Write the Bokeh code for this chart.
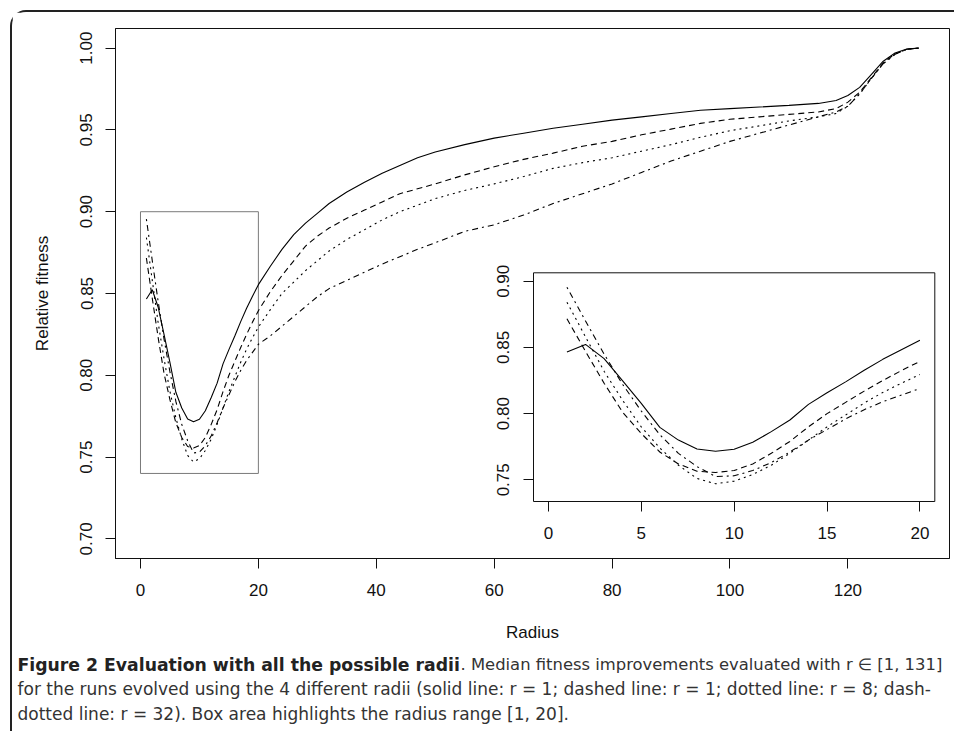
import math
from bokeh.plotting import figure
from bokeh.models import Range1d, FixedTicker, NumeralTickFormatter, Label, LinearAxis
from bokeh.layouts import column
from bokeh.embed import file_html
from bokeh.resources import INLINE

# ---------------- data ----------------
radius = [1, 2, 3, 4, 5, 6, 7, 8, 9, 10, 11, 12, 13, 14, 15, 16, 17, 18, 19, 20,
          22, 24, 26, 28, 30, 32, 35, 38, 41, 44, 47, 50,
          55, 60, 65, 70, 75, 80, 85, 90, 95, 100, 105, 110, 115,
          118, 120, 122, 124, 126, 128, 130, 132]

solid_r1 = [0.8466, 0.8523, 0.8416, 0.8248, 0.8077, 0.7896, 0.7800, 0.7733, 0.7716, 0.7731,
            0.7783, 0.7864, 0.7952, 0.8070, 0.8157, 0.8240, 0.8328, 0.8410, 0.8483, 0.8554,
            0.8665, 0.8770, 0.8860, 0.8930, 0.8990, 0.9050, 0.9120, 0.9180, 0.9235, 0.9283,
            0.9330, 0.9365,
            0.9410, 0.9450, 0.9480, 0.9510, 0.9535, 0.9560, 0.9580, 0.9600, 0.9620, 0.9630,
            0.9640, 0.9650, 0.9662,
            0.9680, 0.9710, 0.9760, 0.9840, 0.9920, 0.9970, 0.9995, 1.0000]

dashed_r1 = [0.8717, 0.8470, 0.8230, 0.8010, 0.7850, 0.7710, 0.7620, 0.7565, 0.7555, 0.7570,
             0.7620, 0.7700, 0.7790, 0.7900, 0.8000, 0.8085, 0.8170, 0.8250, 0.8325, 0.8395,
             0.8510, 0.8610, 0.8700, 0.8790, 0.8850, 0.8900, 0.8960, 0.9010, 0.9060, 0.9110,
             0.9140, 0.9170,
             0.9225, 0.9275, 0.9320, 0.9358, 0.9400, 0.9430, 0.9470, 0.9505, 0.9540, 0.9565,
             0.9580, 0.9595, 0.9610,
             0.9630, 0.9670, 0.9730, 0.9820, 0.9910, 0.9965, 0.9993, 1.0000]

dotted_r8 = [0.8842, 0.8580, 0.8320, 0.8100, 0.7900, 0.7740, 0.7610, 0.7510, 0.7470, 0.7490,
             0.7540, 0.7610, 0.7700, 0.7800, 0.7900, 0.7990, 0.8080, 0.8160, 0.8230, 0.8295,
             0.8400, 0.8500, 0.8570, 0.8640, 0.8700, 0.8760, 0.8830, 0.8890, 0.8950, 0.9000,
             0.9040, 0.9080,
             0.9130, 0.9170, 0.9215, 0.9265, 0.9300, 0.9330, 0.9370, 0.9410, 0.9455, 0.9495,
             0.9525, 0.9555, 0.9580,
             0.9600, 0.9645, 0.9720, 0.9815, 0.9905, 0.9962, 0.9993, 1.0000]

dashdot_r32 = [0.8955, 0.8700, 0.8450, 0.8220, 0.8020, 0.7840, 0.7700, 0.7600, 0.7525, 0.7530,
               0.7570, 0.7630, 0.7710, 0.7800, 0.7880, 0.7960, 0.8030, 0.8090, 0.8140, 0.8190,
               0.8240, 0.8300, 0.8360, 0.8420, 0.8480, 0.8530, 0.8580, 0.8630, 0.8680, 0.8725,
               0.8770, 0.8810,
               0.8880, 0.8920, 0.8980, 0.9050, 0.9110, 0.9170, 0.9240, 0.9310, 0.9370, 0.9430,
               0.9480, 0.9530, 0.9580,
               0.9610, 0.9645, 0.9720, 0.9815, 0.9905, 0.9962, 0.9993, 1.0000]

main_x_ticks = [0, 20, 40, 60, 80, 100, 120]
main_y_ticks = [0.70, 0.75, 0.80, 0.85, 0.90, 0.95, 1.00]
inset_x_ticks = [0, 5, 10, 15, 20]
inset_y_ticks = [0.75, 0.80, 0.85, 0.90]
box_radius = [0, 20]
box_fitness = [0.74, 0.90]
inset_radius_limit = 20

caption_bold = "Figure 2 Evaluation with all the possible radii"
caption_1 = ". Median fitness improvements evaluated with r \u2208 [1, 131]"
caption_2 = ("for the runs evolved using the 4 different radii (solid line: r = 1; "
             "dashed line: r = 1; dotted line: r = 8; dash-")
caption_3 = "dotted line: r = 32). Box area highlights the radius range [1, 20]."

series = [
    (solid_r1, "solid"),
    (dashed_r1, "6 4"),
    (dotted_r8, "2 4"),
    (dashdot_r32, "2 4 6 4"),
]

AXFONT = "Liberation Sans"
INK = "#111111"
FS = "17px"

# ---------------- geometry (pixels) ----------------
FIG_W, FIG_H = 938, 633
B_LEFT, B_RIGHT, B_TOP, B_BOTTOM = 103, 1, 16, 87
ORG = 12  # page offset of the figure (margin 10 + border 2)
fl, fr = ORG + B_LEFT, ORG + FIG_W - B_RIGHT
ft, fb = ORG + B_TOP, ORG + FIG_H - B_BOTTOM
# inset frame in page pixels and its data window
il, ir, it, ib = 533.0, 934.3, 272.3, 501.0
ix0, ix1 = -0.8, 20.8
iy0, iy1 = 0.7336, 0.9064
ux = (ix1 - ix0) / (ir - il)
uy = (iy1 - iy0) / (ib - it)
inset_x_range = Range1d(ix0 - (il - fl) * ux, ix1 + (fr - ir) * ux)
inset_y_range = Range1d(iy0 - (fb - ib) * uy, iy1 + (it - ft) * uy)


def style_axis(ax):
    ax.major_tick_out = 10
    ax.major_tick_in = 0
    ax.minor_tick_line_color = None
    ax.major_tick_line_color = INK
    ax.axis_line_color = INK
    ax.major_label_text_font = AXFONT
    ax.major_label_text_font_size = FS
    ax.major_label_text_color = INK
    ax.axis_label_text_font = AXFONT
    ax.axis_label_text_font_size = FS
    ax.axis_label_text_font_style = "normal"
    ax.axis_label_text_color = INK


# ---------------- main plot ----------------
main = figure(width=FIG_W, height=FIG_H, output_backend="svg", toolbar_location=None,
              x_range=Range1d(-4.24, 137.24), y_range=Range1d(0.688, 1.012),
              min_border_left=B_LEFT, min_border_right=B_RIGHT, min_border_top=B_TOP,
              min_border_bottom=B_BOTTOM, background_fill_color="white",
              border_fill_color="white")
main.frame_align = False
main.extra_x_ranges = {"ix": inset_x_range}
main.extra_y_ranges = {"iy": inset_y_range}
main.xgrid.grid_line_color = None
main.ygrid.grid_line_color = None
main.outline_line_color = INK
main.outline_line_width = 1

main.xaxis.ticker = FixedTicker(ticks=main_x_ticks)
main.yaxis.ticker = FixedTicker(ticks=main_y_ticks)
main.yaxis.formatter = NumeralTickFormatter(format="0.00")
main.yaxis.major_label_orientation = "parallel"
for ax in (main.xaxis[0], main.yaxis[0]):
    style_axis(ax)
main.xaxis.major_label_standoff = 15
main.yaxis.major_label_standoff = 13
main.xaxis.axis_label = "Radius"
main.yaxis.axis_label = "Relative fitness"
main.xaxis.axis_label_standoff = 24
main.yaxis.axis_label_standoff = 26

main.quad(left=box_radius[0], right=box_radius[1], bottom=box_fitness[0], top=box_fitness[1],
          fill_color=None, line_color="#7a7a7a", line_width=1)

for ys, dash in series:
    main.line(radius, ys, line_color="black", line_width=1.1, line_dash=dash)

# ---------------- inset (drawn through its own ranges) ----------------
main.quad(left=ix0, right=ix1, bottom=iy0, top=iy1, x_range_name="ix", y_range_name="iy",
          fill_color="white", line_color=INK, line_width=1)
n_in = sum(1 for r in radius if r <= inset_radius_limit)
for ys, dash in series:
    main.line(radius[:n_in], ys[:n_in], x_range_name="ix", y_range_name="iy",
              line_color="black", line_width=1.1, line_dash=dash)

inset_xaxis = LinearAxis(x_range_name="ix", y_range_name="iy", fixed_location=iy0,
                         ticker=FixedTicker(ticks=inset_x_ticks))
inset_yaxis = LinearAxis(x_range_name="ix", y_range_name="iy", fixed_location=ix0,
                         ticker=FixedTicker(ticks=inset_y_ticks),
                         formatter=NumeralTickFormatter(format="0.00"))
for ax in (inset_xaxis, inset_yaxis):
    style_axis(ax)
    ax.axis_line_color = None
inset_xaxis.major_label_standoff = 15
inset_yaxis.major_label_standoff = 14
inset_yaxis.major_label_orientation = "parallel"
main.add_layout(inset_xaxis, "below")
main.add_layout(inset_yaxis, "left")

# ---------------- caption strip ----------------
CAP_H = 86
cap = figure(width=FIG_W, height=CAP_H, output_backend="svg", toolbar_location=None,
             x_axis_type=None, y_axis_type=None, x_range=Range1d(0, 1), y_range=Range1d(0, 1),
             min_border_left=0, min_border_right=0, min_border_top=0, min_border_bottom=0,
             outline_line_color=None, background_fill_color="white",
             border_fill_color="white")
cap.frame_align = False
cap_top = ORG + FIG_H
cap_bottom = cap_top + CAP_H
CAPFONT = "DejaVu Sans"


def cap_label(page_x, page_baseline, text, bold=False, size="17px", color="#333333"):
    cap.add_layout(Label(x=page_x - ORG, y=cap_bottom - page_baseline,
                         x_units="screen", y_units="screen", text=text,
                         text_font=CAPFONT, text_font_size=size,
                         text_font_style="bold" if bold else "normal",
                         text_color=color, text_baseline="alphabetic"))


cap_label(17, 664, caption_bold, bold=True, size="17.25px", color="#222222")
cap_label(460, 664, caption_1, size="16.4px")
cap_label(17, 688.5, caption_2)
cap_label(17, 713, caption_3)

layout = column(main, cap, width=944, margin=(10, 0, 0, 10))
layout.styles = {"border-left": "2px solid #222",
                 "border-top": "2px solid #222",
                 "border-top-left-radius": "16px"}

open("out.html", "w").write(file_html(layout, INLINE))
